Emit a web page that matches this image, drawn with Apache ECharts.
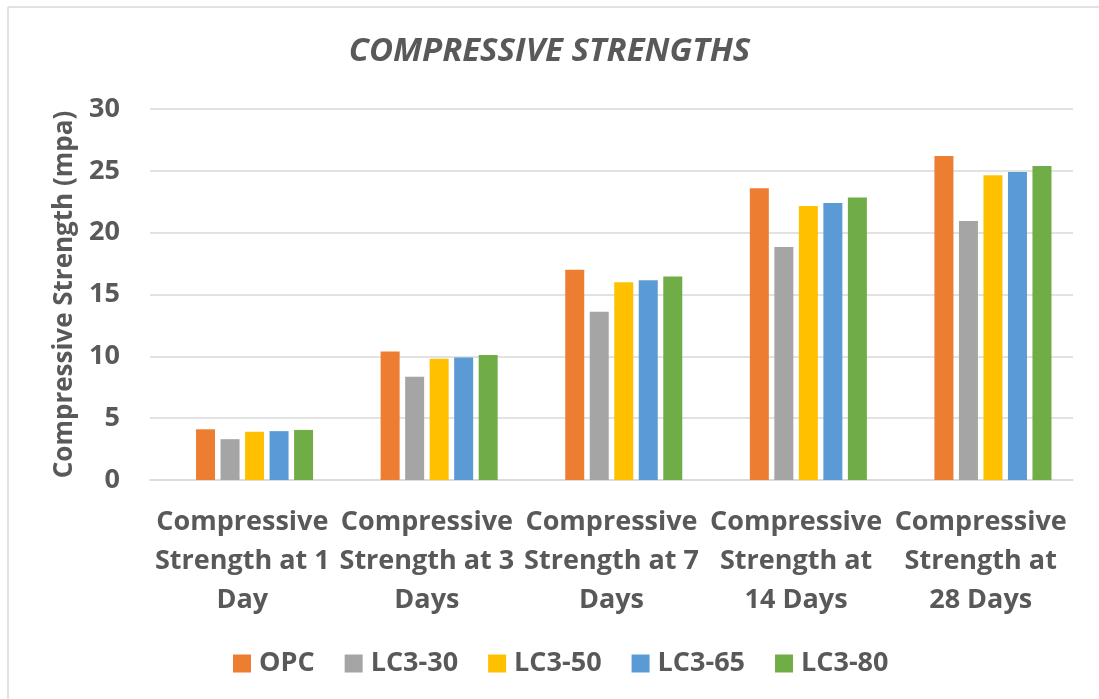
<!DOCTYPE html>
<html>
<head>
<meta charset="utf-8">
<script src="https://cdn.jsdelivr.net/npm/echarts@6/dist/echarts.min.js"></script>
<style>
  html, body { margin: 0; padding: 0; background: #fff; }
  #chart { width: 1099px; height: 699px; }
</style>
</head>
<body>
<div id="chart"></div>
<script>
// Curing ages (x categories)
const categories = [
  'Compressive\nStrength at 1\nDay',
  'Compressive\nStrength at 3\nDays',
  'Compressive\nStrength at 7\nDays',
  'Compressive\nStrength at\n14 Days',
  'Compressive\nStrength at\n28 Days'
];

// Strength per mix (MPa)
const opc   = [4.1, 10.4, 17.0, 23.6, 26.2];
const lc330 = [3.3, 8.35, 13.6, 18.85, 20.95];
const lc350 = [3.9, 9.8, 16.0, 22.15, 24.65];
const lc365 = [3.95, 9.9, 16.15, 22.4, 24.9];
const lc380 = [4.05, 10.1, 16.45, 22.85, 25.4];
// first slot of each group is an empty series (no values)
const blank = [null, null, null, null, null];

const seriesNames = ['OPC', 'LC3-30', 'LC3-50', 'LC3-65', 'LC3-80'];
const seriesData = [opc, lc330, lc350, lc365, lc380];
const colors = ['#ED7D31', '#A5A5A5', '#FFC000', '#5B9BD5', '#70AD47'];

const yTicks = { min: 0, max: 30, interval: 5 };

const FONT = '"Open Sans", Lato, sans-serif';
const TXT = '#595959';

const barSeries = [{
  name: 'Series1', type: 'bar', data: blank, barWidth: 19, barGap: '29%'
}].concat(seriesNames.map((name, i) => ({
  name,
  type: 'bar',
  data: seriesData[i],
  barWidth: 19,
  barGap: '29%',
  itemStyle: { color: colors[i] }
})));

const chart = echarts.init(document.getElementById('chart'));
chart.setOption({
  animation: false,
  backgroundColor: '#ffffff',
  title: {
    text: 'COMPRESSIVE STRENGTHS',
    left: 'center',
    top: 30,
    textStyle: {
      fontFamily: FONT, fontSize: 33, fontWeight: 'bold', fontStyle: 'italic', color: TXT
    }
  },
  legend: {
    top: 645,
    left: 228,
    itemWidth: 18,
    itemHeight: 18,
    itemGap: 30,
    icon: 'rect',
    textStyle: { fontFamily: FONT, fontSize: 27, fontWeight: 'bold', color: TXT, padding: [0, 0, 0, 3] },
    data: seriesNames
  },
  grid: { left: 150, right: 26, top: 109, bottom: 219 },
  xAxis: {
    type: 'category',
    data: categories,
    axisTick: { show: false },
    axisLine: { lineStyle: { color: '#d9d9d9', width: 1.5 } },
    axisLabel: {
      fontFamily: FONT, fontSize: 27, fontWeight: 'bold', color: TXT,
      lineHeight: 39, margin: 23, interval: 0
    }
  },
  yAxis: {
    type: 'value',
    min: yTicks.min, max: yTicks.max, interval: yTicks.interval,
    name: 'Compressive Strength (mpa)',
    nameLocation: 'middle',
    nameGap: 72,
    nameTextStyle: { fontFamily: FONT, fontSize: 26, fontWeight: 'bold', color: TXT },
    axisLine: { show: false },
    axisTick: { show: false },
    splitLine: { lineStyle: { color: '#d9d9d9', width: 1.5 } },
    axisLabel: { fontFamily: FONT, fontSize: 27, fontWeight: 'bold', color: TXT, margin: 30 }
  },
  series: barSeries,
  graphic: [
    { type: 'line', shape: { x1: 8, y1: 7, x2: 1099, y2: 7 }, style: { stroke: '#d9d9d9', lineWidth: 1.5 } },
    { type: 'line', shape: { x1: 8, y1: 7, x2: 8, y2: 699 }, style: { stroke: '#d9d9d9', lineWidth: 1.5 } }
  ]
});
</script>
</body>
</html>
